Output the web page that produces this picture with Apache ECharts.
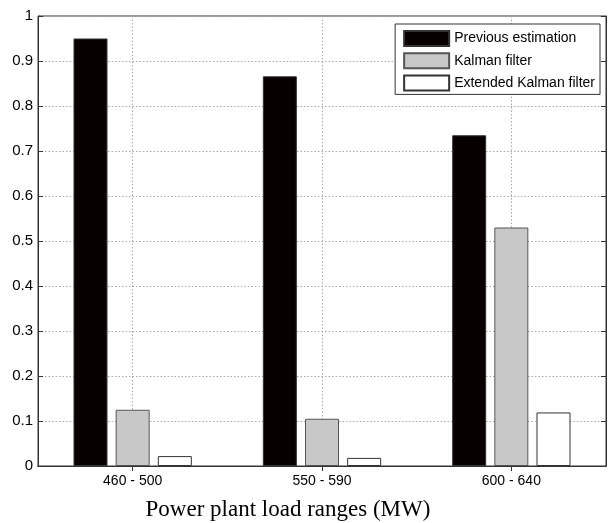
<!DOCTYPE html>
<html>
<head>
<meta charset="utf-8">
<script src="https://cdn.jsdelivr.net/npm/echarts@6/dist/echarts.min.js"></script>
<style>html,body{margin:0;padding:0;background:#fff;}#c{width:609px;height:523px;}</style>
</head>
<body>
<div id="c"></div>
<script>
const categories = ['460 - 500', '550 - 590', '600 - 640'];
const previousEstimation = [0.95, 0.866, 0.735];
const kalmanFilter = [0.125, 0.105, 0.53];
const extendedKalmanFilter = [0.022, 0.018, 0.119];
const seriesNames = ['Previous estimation', 'Kalman filter', 'Extended Kalman filter'];
const xTitle = 'Power plant load ranges (MW)';

const chart = echarts.init(document.getElementById('c'), null, {renderer: 'canvas'});
const gridLine = {show: true, lineStyle: {color: '#a8a8a8', type: [1.5, 2], width: 1}};
const sans = 'Liberation Sans, Arial, sans-serif';
chart.setOption({
  animation: false,
  backgroundColor: '#fff',
  grid: {left: 38, right: 3, top: 16, bottom: 57, outerBoundsMode: 'none', containLabel: false,
    show: true, borderColor: '#333', borderWidth: 1, backgroundColor: 'transparent'},
  legend: {
    data: seriesNames,
    orient: 'vertical',
    right: 9, top: 24,
    itemWidth: 45, itemHeight: 15, itemGap: 5.2,
    padding: [6, 5, 3, 8],
    borderColor: '#333', borderWidth: 1, backgroundColor: '#fff',
    textStyle: {fontFamily: sans, fontSize: 14, color: '#000'},
    icon: 'rect'
  },
  xAxis: [{
    type: 'category', data: categories, position: 'bottom',
    axisLine: {show: true, lineStyle: {color: '#333'}},
    axisTick: {show: true, inside: true, alignWithLabel: true, length: 5, lineStyle: {color: '#333'}},
    axisLabel: {fontFamily: sans, fontSize: 14, color: '#000', margin: 8},
    splitLine: Object.assign({alignWithLabel: true}, gridLine),
    name: xTitle, nameLocation: 'middle', nameGap: 32,
    nameTextStyle: {fontFamily: 'Liberation Serif, Times New Roman, serif', fontSize: 23, color: '#000', padding: [0, 68, 0, 0]}
  }, {
    type: 'category', data: categories, position: 'top',
    axisLine: {show: true, lineStyle: {color: '#333'}},
    axisTick: {show: true, inside: true, alignWithLabel: true, length: 5, lineStyle: {color: '#333'}},
    axisLabel: {show: false}, splitLine: {show: false}
  }],
  yAxis: [{
    type: 'value', min: 0, max: 1, interval: 0.1, position: 'left',
    axisLine: {show: true, lineStyle: {color: '#333'}},
    axisTick: {show: true, inside: true, length: 5, lineStyle: {color: '#333'}},
    axisLabel: {fontFamily: sans, fontSize: 15, color: '#000', margin: 5,
      formatter: v => String(Math.round(v * 10) / 10)},
    splitLine: gridLine
  }, {
    type: 'value', min: 0, max: 1, interval: 0.1, position: 'right',
    axisLine: {show: true, lineStyle: {color: '#333'}},
    axisTick: {show: true, inside: true, length: 5, lineStyle: {color: '#333'}},
    axisLabel: {show: false}, splitLine: {show: false}
  }],
  series: [
    {name: seriesNames[0], type: 'bar', data: previousEstimation, barWidth: 34, barGap: '24%',
     itemStyle: {color: '#080000', borderColor: '#333', borderWidth: 1}},
    {name: seriesNames[1], type: 'bar', data: kalmanFilter, barWidth: 34, barGap: '24%',
     itemStyle: {color: '#c8c8c8', borderColor: '#555', borderWidth: 1}},
    {name: seriesNames[2], type: 'bar', data: extendedKalmanFilter, barWidth: 34, barGap: '24%',
     itemStyle: {color: '#fff', borderColor: '#333', borderWidth: 1}}
  ]
});
</script>
</body>
</html>
